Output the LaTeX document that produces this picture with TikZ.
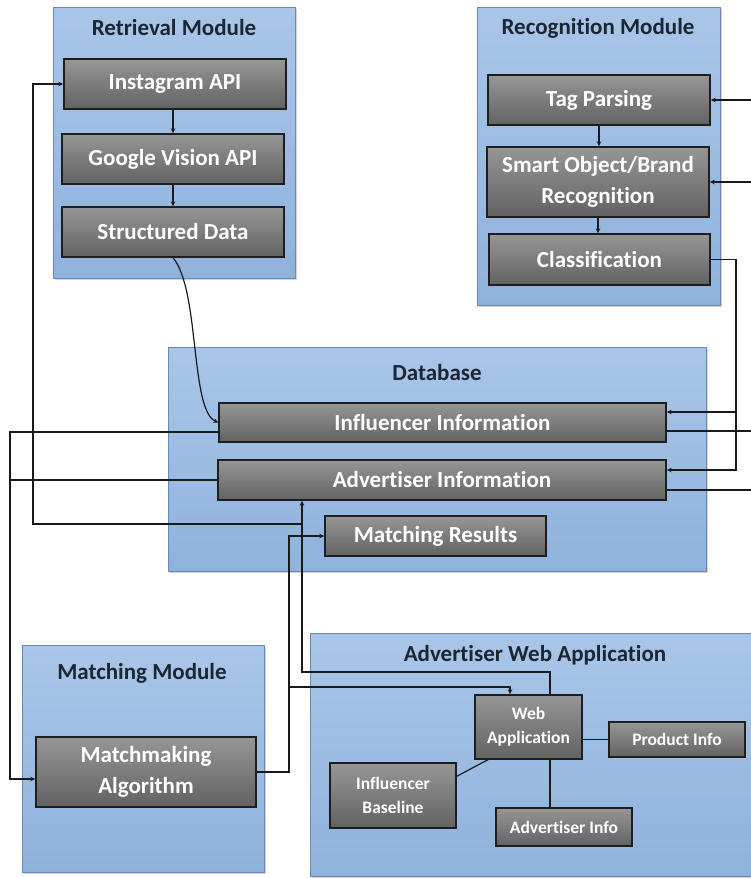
\documentclass[tikz,border=0pt]{standalone}
\usepackage{fontspec}
\setmainfont{Carlito}[Ligatures=NoCommon]
\usetikzlibrary{arrows.meta,shadows}
\definecolor{paneltop}{HTML}{A9C6E8}
\definecolor{panelbot}{HTML}{8FB2DC}
\definecolor{panelrim}{HTML}{6A8AB3}
\definecolor{blocktop}{HTML}{969696}
\definecolor{blockbot}{HTML}{626262}
\definecolor{blockrim}{HTML}{1E1E1E}
\definecolor{titletext}{HTML}{1C2533}
\definecolor{wirecol}{HTML}{1A1A1A}
\begin{document}
\begin{tikzpicture}[x=1pt, y=-1pt,
    panel/.style={draw=panelrim, line width=1pt, top color=paneltop, bottom color=panelbot,
      drop shadow={opacity=0.35, shadow xshift=1.5pt, shadow yshift=-2pt}, inner sep=0pt},
    paneltitle/.style={font=\fontsize{23}{28}\selectfont\bfseries, text=titletext, inner sep=0pt},
    block/.style={draw=blockrim, line width=1.4pt, top color=blocktop, bottom color=blockbot,
      text=white, font=\fontsize{23}{31}\selectfont\bfseries, align=center, inner sep=0pt},
    smallblock/.style={block, font=\fontsize{17.5}{24}\selectfont\bfseries},
    wire/.style={draw=wirecol, line width=1.2pt},
    >={Stealth[length=5pt,width=4.5pt]}
  ]
  \useasboundingbox (0,0) rectangle (751,878);
  \clip (0,0) rectangle (751,878);

  % modules
  \node[panel, minimum width=242pt, minimum height=271pt] (retrieval) at (174,142.5) {};
  \node[panel, minimum width=243pt, minimum height=298pt] (recognition) at (598.5,156) {};
  \node[panel, minimum width=538pt, minimum height=224pt] (database) at (437,459) {};
  \node[panel, minimum width=242pt, minimum height=227pt] (matching) at (143,758.5) {};
  \node[panel, minimum width=450pt, minimum height=243pt] (webmod) at (535,754.5) {};

  \node[paneltitle] at (174,28) {Retrieval Module};
  \node[paneltitle] at (598,28) {Recognition Module};
  \node[paneltitle] at (437,373) {Database};
  \node[paneltitle] at (142,673) {Matching Module};
  \node[paneltitle] at (535,655) {Advertiser Web Application};

  % blocks
  \node[block, minimum width=222pt, minimum height=50pt] (insta) at (175,84) {Instagram API};
  \node[block, minimum width=222pt, minimum height=50pt] (vision) at (173,159) {Google Vision API};
  \node[block, minimum width=222pt, minimum height=50pt] (structured) at (173,232) {Structured Data};
  \node[block, minimum width=222pt, minimum height=50pt] (tags) at (599,100) {Tag Parsing};
  \node[block, minimum width=222pt, minimum height=70pt] (smart) at (598,182) {Smart Object/Brand\\Recognition};
  \node[block, minimum width=221pt, minimum height=51pt] (classify) at (599.5,259.5) {Classification};
  \node[block, minimum width=447pt, minimum height=39pt] (influencer) at (442.5,422.5) {Influencer Information};
  \node[block, minimum width=448pt, minimum height=40pt] (advertiser) at (442,480) {Advertiser Information};
  \node[block, minimum width=221pt, minimum height=40pt] (results) at (435.5,536) {Matching Results};
  \node[block, minimum width=220pt, minimum height=70pt] (matchmaker) at (146,772) {Matchmaking\\Algorithm};
  \node[smallblock, minimum width=107pt, minimum height=64pt] (webapp) at (528.5,727) {Web\\Application};
  \node[smallblock, minimum width=136pt, minimum height=35pt] (product) at (677,739.5) {Product Info};
  \node[smallblock, minimum width=126pt, minimum height=65pt] (baseline) at (393,795.5) {Influencer\\Baseline};
  \node[smallblock, minimum width=136pt, minimum height=38pt] (advinfo) at (564,827) {Advertiser Info};

  % bus points
  \coordinate (redge) at (751,0);
  \coordinate (rbus) at (736,0);
  \coordinate (lbus) at (10,0);
  \coordinate (ibus) at (33,524);
  \coordinate (ijoin) at (302,524);
  \coordinate (upbus) at (302,672);
  \coordinate (mbus) at (289,687);

  % retrieval and recognition chains
  \draw[wire, ->] (insta.south -| vision.north) -- (vision.north);
  \draw[wire, ->] (vision.south) -- (structured.north);
  \draw[wire, ->] (tags.south) -- (tags.south |- smart.north);
  \draw[wire, ->] (smart.south) -- (smart.south |- classify.north);
  \draw[wire, ->] (structured.south) .. controls (200,290) and (190,410) .. (influencer.west);

  % right side
  \draw[wire, ->] (tags.east -| redge) -- (tags.east);
  \draw[wire, ->] (smart.east -| redge) -- (smart.east);
  \draw[wire, ->] (classify.east) -- (classify.east -| rbus) |- ([yshift=10pt]advertiser.east);
  \draw[wire, ->] ([yshift=10.5pt]influencer.east -| rbus) -- ([yshift=10.5pt]influencer.east);
  \draw[wire] ([yshift=-8.5pt]influencer.east) -- ([yshift=-8.5pt]influencer.east -| redge);
  \draw[wire] ([yshift=-10pt]advertiser.east) -- ([yshift=-10pt]advertiser.east -| redge);

  % left side
  \draw[wire, ->] ([yshift=-9.5pt]influencer.west) -| (lbus |- matchmaker.west) |- ([yshift=-7pt]matchmaker.west);
  \draw[wire] (advertiser.west) -- (advertiser.west -| lbus);
  \draw[wire, ->] (ijoin) -- (ibus) |- (insta.west);

  % web application links
  \draw[wire, ->] ([xshift=21.5pt]webapp.north) |- (upbus) -- (upbus |- advertiser.south);
  \draw[wire, ->] (matchmaker.east) -- (matchmaker.east -| mbus) |- (results.west);
  \draw[wire, ->] (mbus) -| ([xshift=-18.5pt]webapp.north);
  \draw[wire] (product.west) -- (product.west -| webapp.east);
  \draw[wire] ([xshift=21.5pt]webapp.south) -- ([xshift=21.5pt]webapp.south |- advinfo.north);
  \draw[wire] ([yshift=-14pt]baseline.north east) -- ([xshift=-40.5pt]webapp.south);
\end{tikzpicture}
\end{document}
